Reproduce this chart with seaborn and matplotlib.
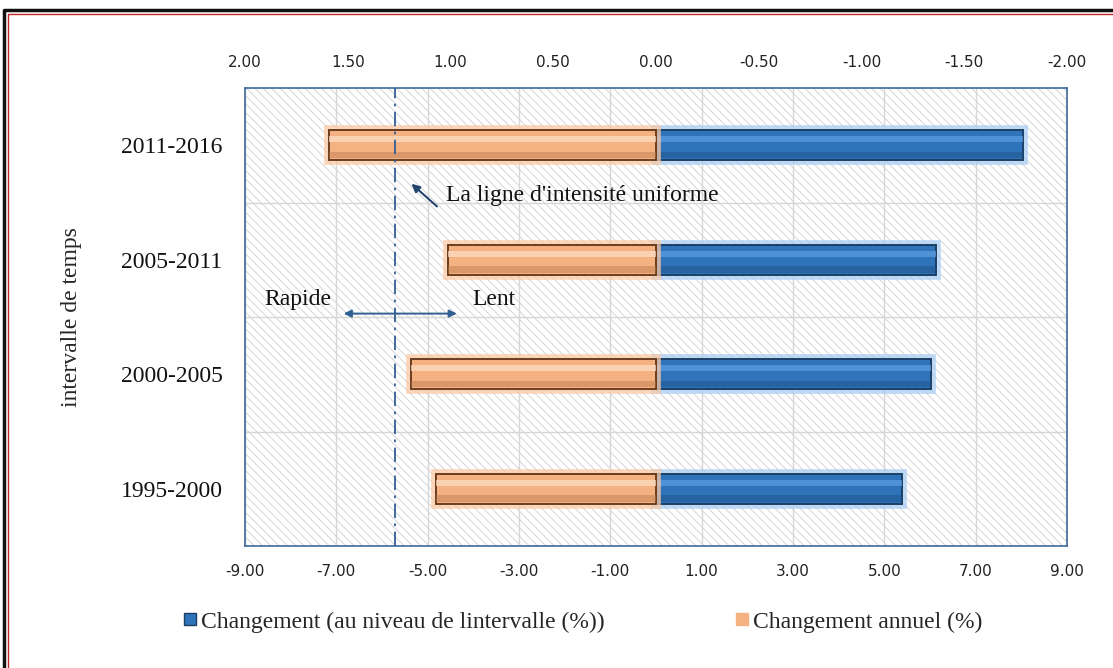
import matplotlib
matplotlib.use("Agg")
import matplotlib.pyplot as plt
import matplotlib.patheffects as pe
from matplotlib.patches import Rectangle
from matplotlib.lines import Line2D
import seaborn as sns
import pandas as pd

# ---- data ----
periods = ["2011-2016", "2005-2011", "2000-2005", "1995-2000"]
interval_change = [8.03, 6.12, 6.02, 5.38]      # bottom axis (%)
annual_change = [1.59, 1.01, 1.19, 1.07]        # top axis (%), reversed
uniform_intensity = 1.27                         # top axis value
bottom_ticks = [-9, -7, -5, -3, -1, 1, 3, 5, 7, 9]
top_ticks = [2.0, 1.5, 1.0, 0.5, 0.0, -0.5, -1.0, -1.5, -2.0]
label_interval = "Changement (au niveau de lintervalle (%))"
label_annual = "Changement annuel (%)"

blue = "#2f74bb"
orange = "#f6b183"

sns.set_theme(style="white")
plt.rcParams["font.family"] = ["DejaVu Sans"]
plt.rcParams["hatch.linewidth"] = 0.6
serif = ["Liberation Serif", "DejaVu Serif"]
FS = 17

fig = plt.figure(figsize=(11.13, 6.68), dpi=100)
ax = fig.add_axes([0.2201, 0.1826, 0.7386, 0.6856])

# hatched background
ax.add_patch(Rectangle((0, 0), 1, 1, transform=ax.transAxes, facecolor="white",
                       edgecolor="#d0d0d0", linewidth=0, hatch="\\\\\\\\", zorder=0))


def bevel(axis, light, dark, glow):
    for p in axis.patches:
        if p.get_width() == 0 or p.get_hatch():
            continue
        p.set_path_effects([pe.withStroke(linewidth=7, foreground=glow, alpha=0.75)])
        x0, y0 = p.get_x(), p.get_y()
        w, h = p.get_width(), p.get_height()
        # light stripe in the upper half
        axis.add_patch(Rectangle((x0, y0 + h * 0.2), w, h * 0.2, facecolor=light,
                                 edgecolor="none", zorder=3.5, alpha=0.7))
        # darker lower band
        axis.add_patch(Rectangle((x0, y0 + h * 0.72), w, h * 0.22, facecolor=dark,
                                 edgecolor="none", zorder=3.5, alpha=0.45))


df_blue = pd.DataFrame({"period": periods, "value": interval_change})
sns.barplot(data=df_blue, x="value", y="period", orient="h", ax=ax,
            color=blue, width=0.26, edgecolor="#1d3f66", linewidth=1.4,
            saturation=1, zorder=3)
bevel(ax, "#5c9ee0", "#1f4f80", "#a9cdf2")

ax.set_xlim(-9, 9)
ax.set_ylim(3.5, -0.5)
ax.set_xticks(bottom_ticks)
ax.set_xticklabels([f"{t:.2f}" for t in bottom_ticks], fontsize=11, color="#222222")
ax.set_yticks(range(len(periods)))
ax.set_yticklabels(periods, fontsize=FS, family=serif, color="#111111")
ax.set_yticks([0.5, 1.5, 2.5], minor=True)
ax.tick_params(axis="x", which="both", length=0, pad=13)
ax.tick_params(axis="y", which="both", length=0, pad=16)
ax.grid(True, axis="x", which="major", color="#d6d6d6", linewidth=1, zorder=1)
ax.grid(True, axis="y", which="minor", color="#d6d6d6", linewidth=1, zorder=1)
ax.set_axisbelow(True)
ax.set_xlabel("")
ax.set_ylabel("intervalle de temps", fontsize=FS, family=serif, labelpad=28)
for s in ax.spines.values():
    s.set_color("#3d6a9a")
    s.set_linewidth(1.2)

# top (reversed) axis for annual change
ax2 = ax.twiny()
ax2.patch.set_visible(False)
df_or = pd.DataFrame({"period": periods, "value": annual_change})
sns.barplot(data=df_or, x="value", y="period", orient="h", ax=ax2,
            color=orange, width=0.26, edgecolor="#6b3d1e", linewidth=1.4,
            saturation=1, zorder=3)
bevel(ax2, "#fde0c6", "#b8784a", "#fbc9a4")
ax2.set_xlim(2, -2)
ax2.set_ylim(3.5, -0.5)
ax2.set_xticks(top_ticks)
ax2.set_xticklabels([f"{t:.2f}" for t in top_ticks], fontsize=11, color="#222222")
ax2.tick_params(axis="x", length=0, pad=13)
ax2.set_xlabel("")
ax2.set_ylabel("")
ax2.grid(False)
for s in ax2.spines.values():
    s.set_visible(False)

# uniform intensity line
ax2.axvline(uniform_intensity, color="#2f5f93", linestyle=(0, (8, 3, 1.5, 3)),
            linewidth=1.3, zorder=4)

# annotations (bottom-axis data coordinates)
ax.annotate("", xy=(-5.4, 0.32), xytext=(-4.75, 0.55),
            arrowprops=dict(arrowstyle="-|>", color="#24446e", lw=1.5,
                            mutation_scale=12), zorder=5)
ax.text(-4.6, 0.44, "La ligne d'intensité uniforme", fontsize=FS, family=serif,
        va="center", ha="left", color="#111111", zorder=5)
ax.annotate("", xy=(-6.9, 1.47), xytext=(-4.3, 1.47),
            arrowprops=dict(arrowstyle="<|-|>", color="#2f5f93", lw=1.4,
                            mutation_scale=11), zorder=5)
ax.text(-7.85, 1.35, "Rapide", fontsize=FS, family=serif, va="center",
        ha="center", color="#111111", zorder=5)
ax.text(-3.55, 1.35, "Lent", fontsize=FS, family=serif, va="center",
        ha="center", color="#111111", zorder=5)

# legend
handles = [
    Line2D([], [], marker="s", linestyle="none", markersize=9,
           markerfacecolor=blue, markeredgecolor="#1d3f66"),
    Line2D([], [], marker="s", linestyle="none", markersize=9,
           markerfacecolor=orange, markeredgecolor=orange),
]
fig.legend(handles, [label_interval, label_annual], loc="center",
           bbox_to_anchor=(0.523, 0.069), ncol=2, frameon=False,
           prop={"family": serif, "size": FS}, handletextpad=0.1,
           columnspacing=5.5, handlelength=0.7)

# outer frame (top and left edges)
fig.add_artist(Line2D([0.004, 0.004, 1.0], [0.0, 0.985, 0.985],
                      transform=fig.transFigure, color="#111111", linewidth=2.5))
fig.add_artist(Line2D([0.0075, 0.0075, 1.0], [0.0, 0.979, 0.979],
                      transform=fig.transFigure, color="#c0282d", linewidth=1.0))

fig.savefig("out.png", dpi=100)
